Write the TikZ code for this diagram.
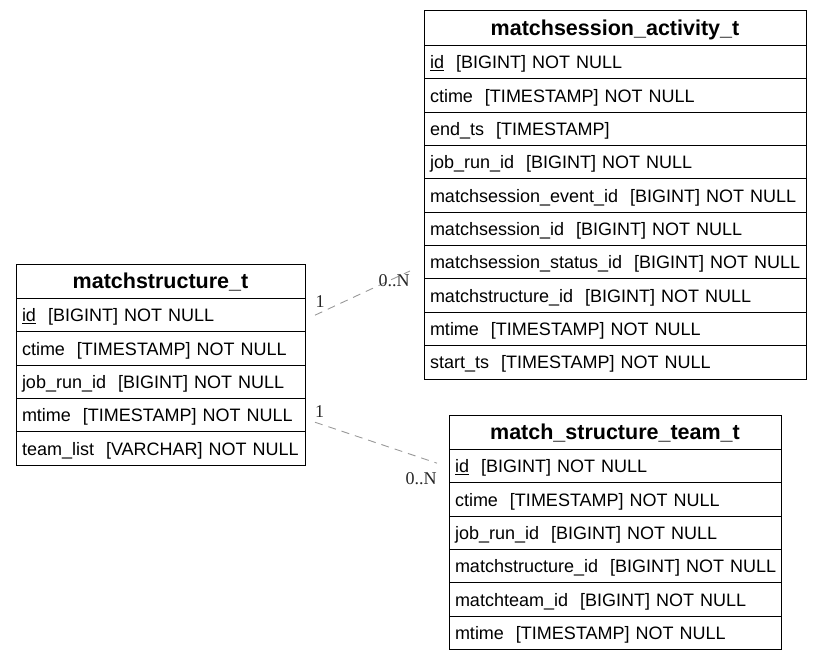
\documentclass[tikz,border=0pt]{standalone}
\usepackage{fontspec}
\setmainfont{Liberation Sans}
\newfontfamily\cardfont{Liberation Serif}
\usetikzlibrary{positioning}

\tikzset{
  tablehead/.style={draw, line width=1pt, outer sep=0pt, inner sep=0pt, anchor=north west,
    minimum height=34.5pt, text height=17.5pt, text depth=2.5pt,
    font=\fontsize{21.5}{25}\selectfont\bfseries},
  tablerow/.style={draw, line width=1pt, outer sep=0pt, inner xsep=6pt, inner ysep=0pt,
    text width=#1, align=left, minimum height=33.35pt, text height=15pt, text depth=2pt,
    font=\fontsize{18}{22}\selectfont},
  relation/.style={draw=gray!80, line width=0.9pt, dash pattern=on 8pt off 6pt},
  card/.style={text=black!85, inner sep=0pt, font=\cardfont\fontsize{18}{20}\selectfont}
}

\begin{document}
\begin{tikzpicture}[x=1pt, y=-1pt, node distance=0pt]
\useasboundingbox (0,0) rectangle (822,661);

% matchstructure_t
\node[tablehead, minimum width=289pt] (ms-0) at (16,264) {matchstructure\_t};
\foreach \f [count=\i, evaluate=\i as \j using int(\i-1)] in {
    {\underline{id}~~[BIGINT] NOT NULL},
    {ctime~~[TIMESTAMP] NOT NULL},
    {job\_run\_id~~[BIGINT] NOT NULL},
    {mtime~~[TIMESTAMP] NOT NULL},
    {team\_list~~[VARCHAR] NOT NULL}}
  \node[tablerow=277pt, below=of ms-\j] (ms-\i) {\mbox{\f}};

% matchsession_activity_t
\node[tablehead, minimum width=382pt] (msa-0) at (424,11) {matchsession\_activity\_t};
\foreach \f [count=\i, evaluate=\i as \j using int(\i-1)] in {
    {\underline{id}~~[BIGINT] NOT NULL},
    {ctime~~[TIMESTAMP] NOT NULL},
    {end\_ts~~[TIMESTAMP]},
    {job\_run\_id~~[BIGINT] NOT NULL},
    {matchsession\_event\_id~~[BIGINT] NOT NULL},
    {matchsession\_id~~[BIGINT] NOT NULL},
    {matchsession\_status\_id~~[BIGINT] NOT NULL},
    {matchstructure\_id~~[BIGINT] NOT NULL},
    {mtime~~[TIMESTAMP] NOT NULL},
    {start\_ts~~[TIMESTAMP] NOT NULL}}
  \node[tablerow=370pt, below=of msa-\j] (msa-\i) {\mbox{\f}};

% match_structure_team_t
\node[tablehead, minimum width=332pt] (mst-0) at (449,415) {match\_structure\_team\_t};
\foreach \f [count=\i, evaluate=\i as \j using int(\i-1)] in {
    {\underline{id}~~[BIGINT] NOT NULL},
    {ctime~~[TIMESTAMP] NOT NULL},
    {job\_run\_id~~[BIGINT] NOT NULL},
    {matchstructure\_id~~[BIGINT] NOT NULL},
    {matchteam\_id~~[BIGINT] NOT NULL},
    {mtime~~[TIMESTAMP] NOT NULL}}
  \node[tablerow=320pt, below=of mst-\j] (mst-\i) {\mbox{\f}};

% relations
\draw[relation] ([xshift=10pt]ms-1.east) -- ([shift={(-14pt,8pt)}]msa-8.north west)
  node[card, at start, xshift=5pt, yshift=13.5pt] {1}
  node[card, at end, xshift=-16pt, yshift=-10pt] {0..N};
\draw[relation] ([shift={(10pt,-7pt)}]ms-4.east) -- ([shift={(-12pt,3pt)}]mst-1.west)
  node[card, at start, xshift=4.5pt, yshift=10.5pt] {1}
  node[card, at end, xshift=-16pt, yshift=-15pt] {0..N};
\end{tikzpicture}
\end{document}
